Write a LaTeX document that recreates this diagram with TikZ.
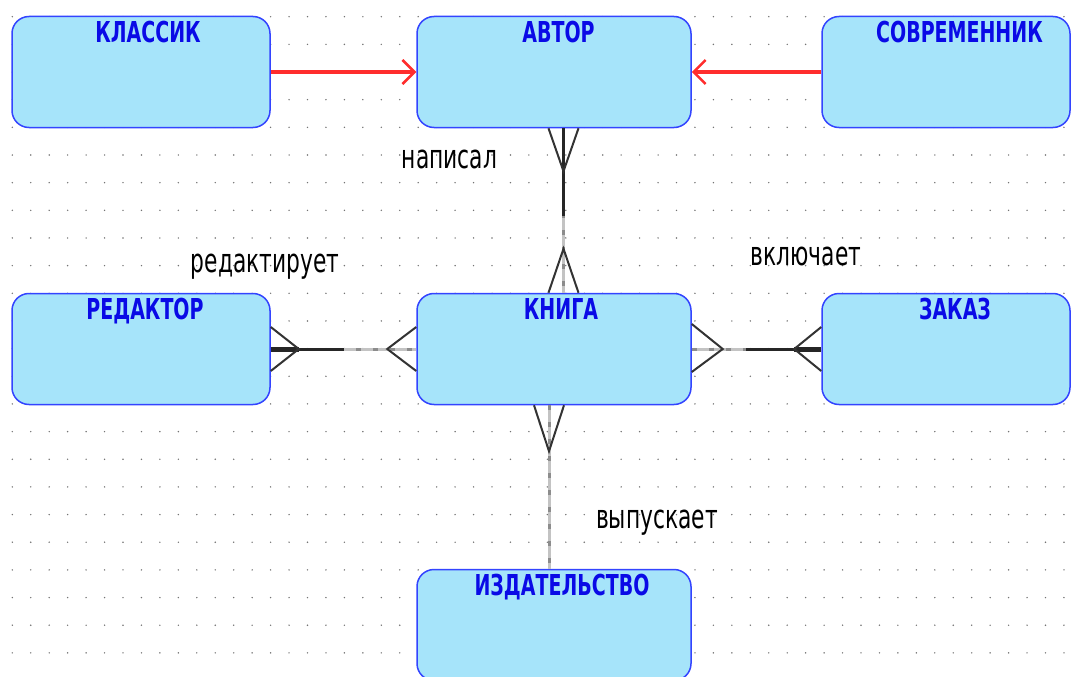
\documentclass[tikz,border=0pt]{standalone}
\usepackage{fontspec}
\usepackage{tikz}
\usetikzlibrary{arrows.meta,calc}
\newfontfamily\titlefont[FakeStretch=0.66]{DejaVu Sans Bold}
\newfontfamily\relfont[FakeStretch=0.66]{DejaVu Sans}
\definecolor{boxfill}{RGB}{166,228,250}
\definecolor{boxline}{RGB}{51,68,255}
\definecolor{titleblue}{RGB}{10,10,230}
\definecolor{isared}{RGB}{255,45,45}
\definecolor{optgray}{RGB}{195,195,195}

\begin{document}
\begin{tikzpicture}[x=1pt, y=-1pt,
  entity/.style={draw=boxline, line width=1.5pt, fill=boxfill, rounded corners=17pt,
    minimum width=#1, minimum height=111pt, inner sep=0pt},
  entity/.default=258pt,
  title/.style={font=\titlefont\fontsize{28.8}{30}\selectfont, text=titleblue,
    anchor=base, yshift=-26.5pt, xshift=7pt},
  rel/.style={font=\relfont\fontsize{33}{36}\selectfont, anchor=base},
  isa/.style={line width=3.5pt, draw=isared,
    -{Straight Barb[length=12pt,width=24pt,line width=2.5pt]}},
  must/.style={line width=3pt, draw=black!85},
  opt/.style={line width=3pt, draw=optgray,
    postaction={draw=black!45, dash pattern=on 5pt off 12pt}},
  foot/.style={line width=2pt, draw=black!80}]

\useasboundingbox (0,0) rectangle (1072,677);

% dotted grid
\foreach \i in {0,...,57}
  \foreach \j in {0,...,23}
    \fill[black!55] (12.3+18.45*\i, 16.7+27.66*\j) circle (0.8pt);

% entities
\node[entity, label={[title]north:КЛАССИК}] (klassik) at (141,72) {};
\node[entity=274pt, label={[title, xshift=-2.5pt]north:АВТОР}] (avtor) at (554,72) {};
\node[entity=248pt, label={[title, xshift=6.5pt]north:СОВРЕМЕННИК}] (sovr) at (946,72) {};
\node[entity, label={[title, xshift=-3pt]north:РЕДАКТОР}] (redaktor) at (141,349) {};
\node[entity=274pt, label={[title]north:КНИГА}] (kniga) at (554,349) {};
\node[entity=248pt, label={[title, xshift=2pt]north:ЗАКАЗ}] (zakaz) at (946,349) {};
\node[entity=274pt, label={[title, xshift=1pt]north:ИЗДАТЕЛЬСТВО}] (izdat) at (554,625) {};

% inheritance
\draw[isa] (klassik) -- (avtor);
\draw[isa] (sovr) -- (avtor);

% avtor -- kniga
\draw[opt] ($(avtor.south)+(9.5,0)$) -- ($(kniga.north)+(9.5,0)$);
\draw[must] ($(avtor.south)+(9.5,0)$) -- ++(0,88);
\draw[foot] ($(avtor.south)+(-5.5,0)$) -- ($(avtor.south)+(9.5,43)$) -- ($(avtor.south)+(24.5,0)$);
\draw[foot] ($(kniga.north)+(-5.5,0)$) -- ($(kniga.north)+(9.5,-44)$) -- ($(kniga.north)+(24.5,0)$);

% redaktor -- kniga
\draw[opt] (redaktor.east) -- (kniga.west);
\draw[must] (redaktor.east) -- ++(73,0);
\draw[must, line width=5pt] (redaktor.east) -- ++(28,0);
\draw[foot] ($(redaktor.east)+(0,-22)$) -- ($(redaktor.east)+(28,0)$) -- ($(redaktor.east)+(0,22)$);
\draw[foot] ($(kniga.west)+(0,-22)$) -- ($(kniga.west)+(-29,0)$) -- ($(kniga.west)+(0,22)$);

% kniga -- zakaz
\draw[opt] (kniga.east) -- (zakaz.west);
\draw[must] (zakaz.west) -- ++(-75,0);
\draw[must, line width=5pt] (zakaz.west) -- ++(-27,0);
\draw[foot] ($(kniga.east)+(0,-25)$) -- ($(kniga.east)+(31,0)$) -- ($(kniga.east)+(0,23)$);
\draw[foot] ($(zakaz.west)+(0,-22)$) -- ($(zakaz.west)+(-27,0)$) -- ($(zakaz.west)+(0,22)$);

% kniga -- izdat
\draw[opt] ($(kniga.south)+(-5,0)$) -- ($(izdat.north)+(-5,0)$);
\draw[foot] ($(kniga.south)+(-20,0)$) -- ($(kniga.south)+(-5,46)$) -- ($(kniga.south)+(10,0)$);

% relationships
\node[rel] (napisal) at (449.5,168) {написал};
\node[rel] (redaktiruet) at (265,272) {редактирует};
\node[rel] (vklyuchaet) at (806,265) {включает};
\node[rel] (vypuskaet) at (657,528) {выпускает};

\end{tikzpicture}
\end{document}
